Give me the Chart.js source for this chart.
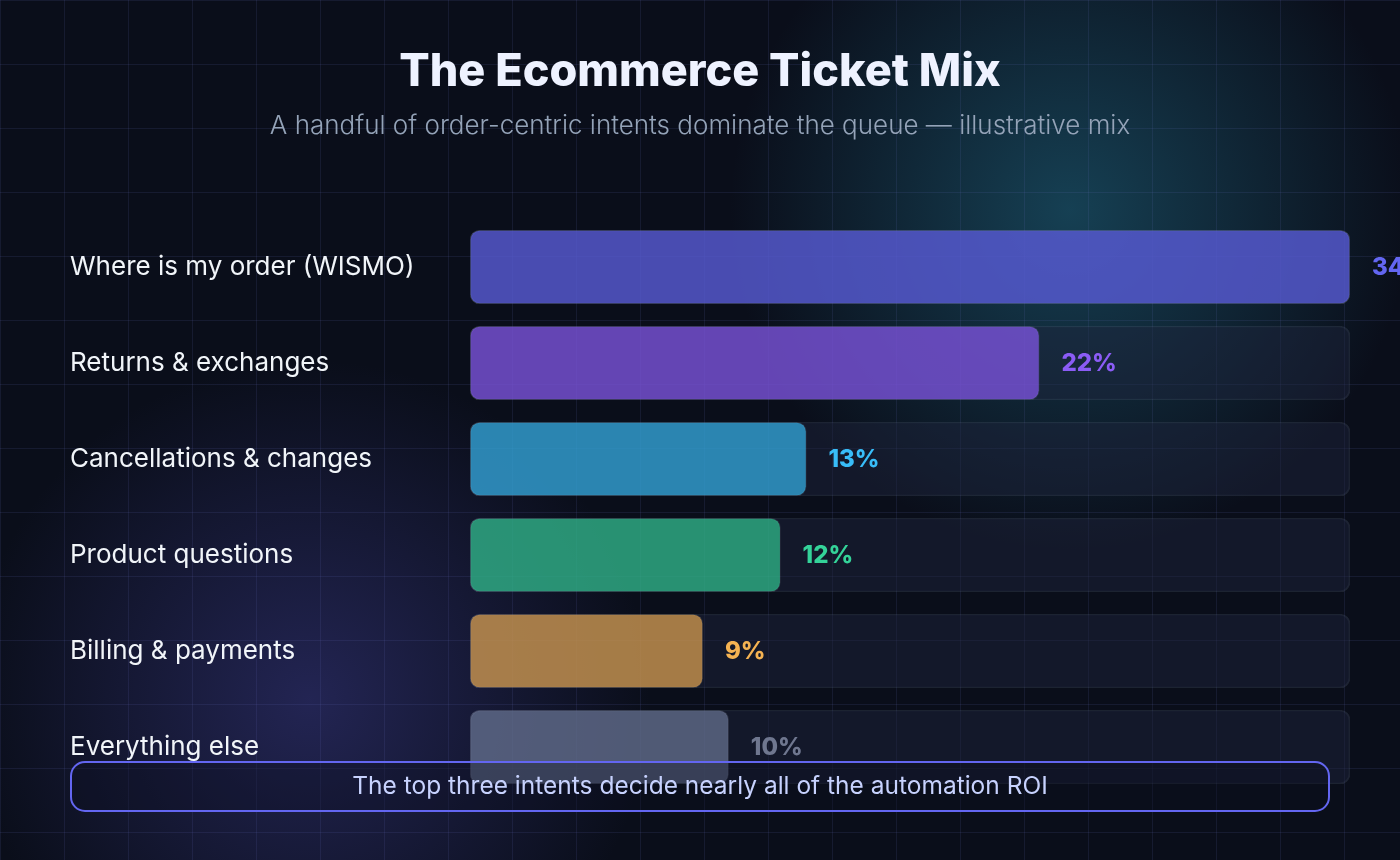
<!DOCTYPE html>
<html>
<head>
<meta charset="utf-8">
<title>The Ecommerce Ticket Mix</title>
<script src="https://cdn.jsdelivr.net/npm/chart.js@4.4.1/dist/chart.umd.min.js"></script>
<style>
  html, body { margin: 0; padding: 0; background: #0a0e1a; }
  #chart { display: block; }
</style>
</head>
<body>
<canvas id="chart" width="1400" height="860"></canvas>
<script>
// data
var categories = ["Where is my order (WISMO)", "Returns & exchanges", "Cancellations & changes", "Product questions", "Billing & payments", "Everything else"];
var shares = [34, 22, 13, 12, 9, 10];
var barColors = ["rgba(99,102,241,0.68)", "rgba(139,92,246,0.68)", "rgba(56,189,248,0.66)", "rgba(52,211,153,0.65)", "rgba(222,162,82,0.72)", "rgba(112,124,156,0.66)"];
var labelColors = ["#6366f1", "#8b5cf6", "#38bdf8", "#34d399", "#f5b352", "#6f778f"];
var titleText = "The Ecommerce Ticket Mix";
var subtitleText = "A handful of order-centric intents dominate the queue \u2014 illustrative mix";
var bannerText = "The top three intents decide nearly all of the automation ROI";

var FONT = "Inter, 'Noto Sans', sans-serif";
var xMax = Math.max.apply(null, shares);
var trackValues = categories.map(function () { return xMax; });

var backdrop = {
    id: "backdrop",
    beforeDraw: function (chart) {
        var ctx = chart.ctx, w = chart.width, h = chart.height;
        ctx.save();
        ctx.fillStyle = "#0a0e1a";
        ctx.fillRect(0, 0, w, h);

        var g1 = ctx.createRadialGradient(1070, 210, 0, 1070, 210, 340);
        g1.addColorStop(0, "rgba(30,100,125,0.58)");
        g1.addColorStop(1, "rgba(30,100,125,0)");
        ctx.fillStyle = g1;
        ctx.fillRect(0, 0, w, h);

        var g2 = ctx.createRadialGradient(310, 700, 0, 310, 700, 340);
        g2.addColorStop(0, "rgba(55,55,130,0.55)");
        g2.addColorStop(1, "rgba(55,55,130,0)");
        ctx.fillStyle = g2;
        ctx.fillRect(0, 0, w, h);

        ctx.strokeStyle = "rgba(110,115,200,0.13)";
        ctx.lineWidth = 1;
        ctx.beginPath();
        for (var x = 0; x <= w; x += 64) { ctx.moveTo(x + 0.5, 0); ctx.lineTo(x + 0.5, h); }
        for (var y = 0; y <= h; y += 64) { ctx.moveTo(0, y + 0.5); ctx.lineTo(w, y + 0.5); }
        ctx.stroke();

        // heading, centred on the page rather than the plot
        ctx.textAlign = "center";
        ctx.textBaseline = "alphabetic";
        ctx.fillStyle = "#eef2ff";
        ctx.font = "800 45px " + FONT;
        ctx.fillText(titleText, 700, 86);
        ctx.fillStyle = "#94a3b8";
        ctx.font = "300 26px " + FONT;
        ctx.fillText(subtitleText, 700, 134);
        ctx.restore();
    }
};

var valueLabels = {
    id: "valueLabels",
    afterDatasetsDraw: function (chart) {
        var ctx = chart.ctx;
        var meta = chart.getDatasetMeta(0);
        ctx.save();
        ctx.font = "800 24px " + FONT;
        ctx.textBaseline = "middle";
        ctx.textAlign = "left";
        meta.data.forEach(function (bar, i) {
            ctx.fillStyle = labelColors[i];
            ctx.fillText(shares[i] + "%", bar.x + 22, bar.y + 1);
        });
        ctx.restore();
    }
};

var banner = {
    id: "banner",
    afterDraw: function (chart) {
        var ctx = chart.ctx;
        ctx.save();
        ctx.beginPath();
        ctx.roundRect(71, 762, 1258, 49, 14);
        ctx.fillStyle = "rgba(12,14,32,0.35)";
        ctx.fill();
        ctx.strokeStyle = "#6366f1";
        ctx.lineWidth = 2;
        ctx.stroke();
        ctx.fillStyle = "#c7d2fe";
        ctx.font = "400 24.5px " + FONT;
        ctx.textAlign = "center";
        ctx.textBaseline = "alphabetic";
        ctx.fillText(bannerText, 700, 794);
        ctx.restore();
    }
};

var ctx0 = document.getElementById("chart");
var myChart = new Chart(ctx0, {
    type: "bar",
    data: {
        labels: categories,
        datasets: [{
            label: "Share of tickets",
            data: shares,
            backgroundColor: barColors,
            borderColor: "rgba(255,255,255,0.08)",
            borderWidth: 1,
            borderRadius: 10,
            borderSkipped: false,
            barThickness: 74,
            grouped: false
        }, {
            label: "Track",
            data: trackValues,
            backgroundColor: "rgba(30,38,62,0.45)",
            borderColor: "rgba(148,163,184,0.14)",
            borderWidth: 1,
            borderRadius: 10,
            borderSkipped: false,
            barThickness: 74,
            grouped: false
        }]
    },
    options: {
        indexAxis: "y",
        responsive: false,
        animation: false,
        layout: { padding: { left: 70, right: 50, top: 219, bottom: 65 } },
        scales: {
            x: { display: false, min: 0, max: xMax },
            y: {
                grid: { display: false },
                border: { display: false },
                afterFit: function (scale) { scale.width = 400; },
                ticks: {
                    crossAlign: "far",
                    color: "#f1f5f9",
                    font: { family: FONT, size: 26, weight: "400" }
                }
            }
        },
        plugins: {
            legend: { display: false },
            tooltip: { enabled: false }
        }
    },
    plugins: [backdrop, valueLabels, banner]
});
</script>
</body>
</html>
